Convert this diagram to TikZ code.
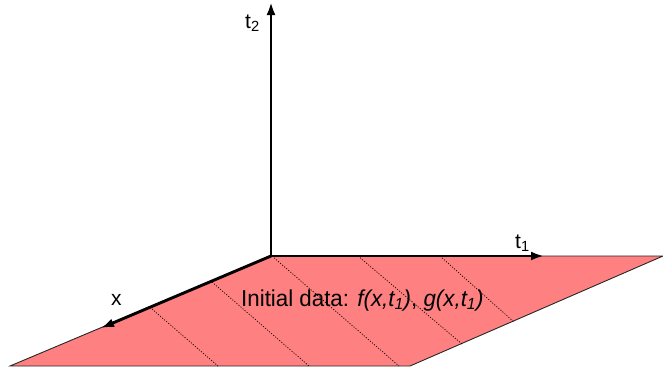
\documentclass[tikz,border=0pt]{standalone}
\usepackage{fontspec}
\setmainfont{Liberation Sans}
\newfontfamily\narrowsans[FakeStretch=0.97]{Liberation Sans}
\usetikzlibrary{arrows.meta}
\definecolor{planefill}{RGB}{255,128,128}
\begin{document}
\begin{tikzpicture}[x=1pt,y=-1pt,
  axis/.style={line width=2.9pt,-{Latex[length=13pt,width=9pt]}},
  planeedge/.style={draw=black!85,line width=0.9pt},
  hatch/.style={black,line width=0.7pt,dash pattern=on 1.1pt off 1.6pt},
  lbl/.style={font=\fontsize{21}{24}\selectfont,inner sep=0pt,anchor=base west},
  txt/.style={font=\narrowsans\fontsize{23}{26}\selectfont,inner sep=0pt,anchor=base west}]
\useasboundingbox (0,0) rectangle (663,368);
% plane corners
\coordinate (O) at (271,256);
\coordinate (R) at (663,256);
\coordinate (BR) at (410,366);
\coordinate (BL) at (10,366);
\fill[planefill] (O) -- (R) -- (BR) -- (BL) -- cycle;
\draw[planeedge] (O) -- (R) -- (BR) -- (BL) -- cycle;
% dotted lines
\coordinate (a1) at (152,309); \coordinate (b1) at (218,366);
\coordinate (a2) at (212,282); \coordinate (b2) at (309,366);
\coordinate (a3) at (272,256); \coordinate (b3) at (399,366);
\coordinate (a4) at (358,256); \coordinate (b4) at (462,344);
\coordinate (a5) at (440,256); \coordinate (b5) at (514,322);
\foreach \i in {1,...,5} {\draw[hatch] (a\i) -- (b\i);}
% axes
\coordinate (T2) at (271,2);
\coordinate (T1) at (544,256);
\coordinate (X) at (101,328);
\draw[axis] (O) -- (T2);
\draw[axis] (O) -- (T1);
\draw[axis] (O) -- (X);
% labels
\node[lbl] (lt2) at (245,28) {t\textsubscript{2}};
\node[lbl] (lt1) at (515,248) {t\textsubscript{1}};
\node[lbl] (lx) at (111,305) {x};
\node[txt] (data) at (241,306) {Initial data: \textit{f(x,t\textsubscript{1})}, \textit{g(x,t\textsubscript{1})}};
\end{tikzpicture}
\end{document}
